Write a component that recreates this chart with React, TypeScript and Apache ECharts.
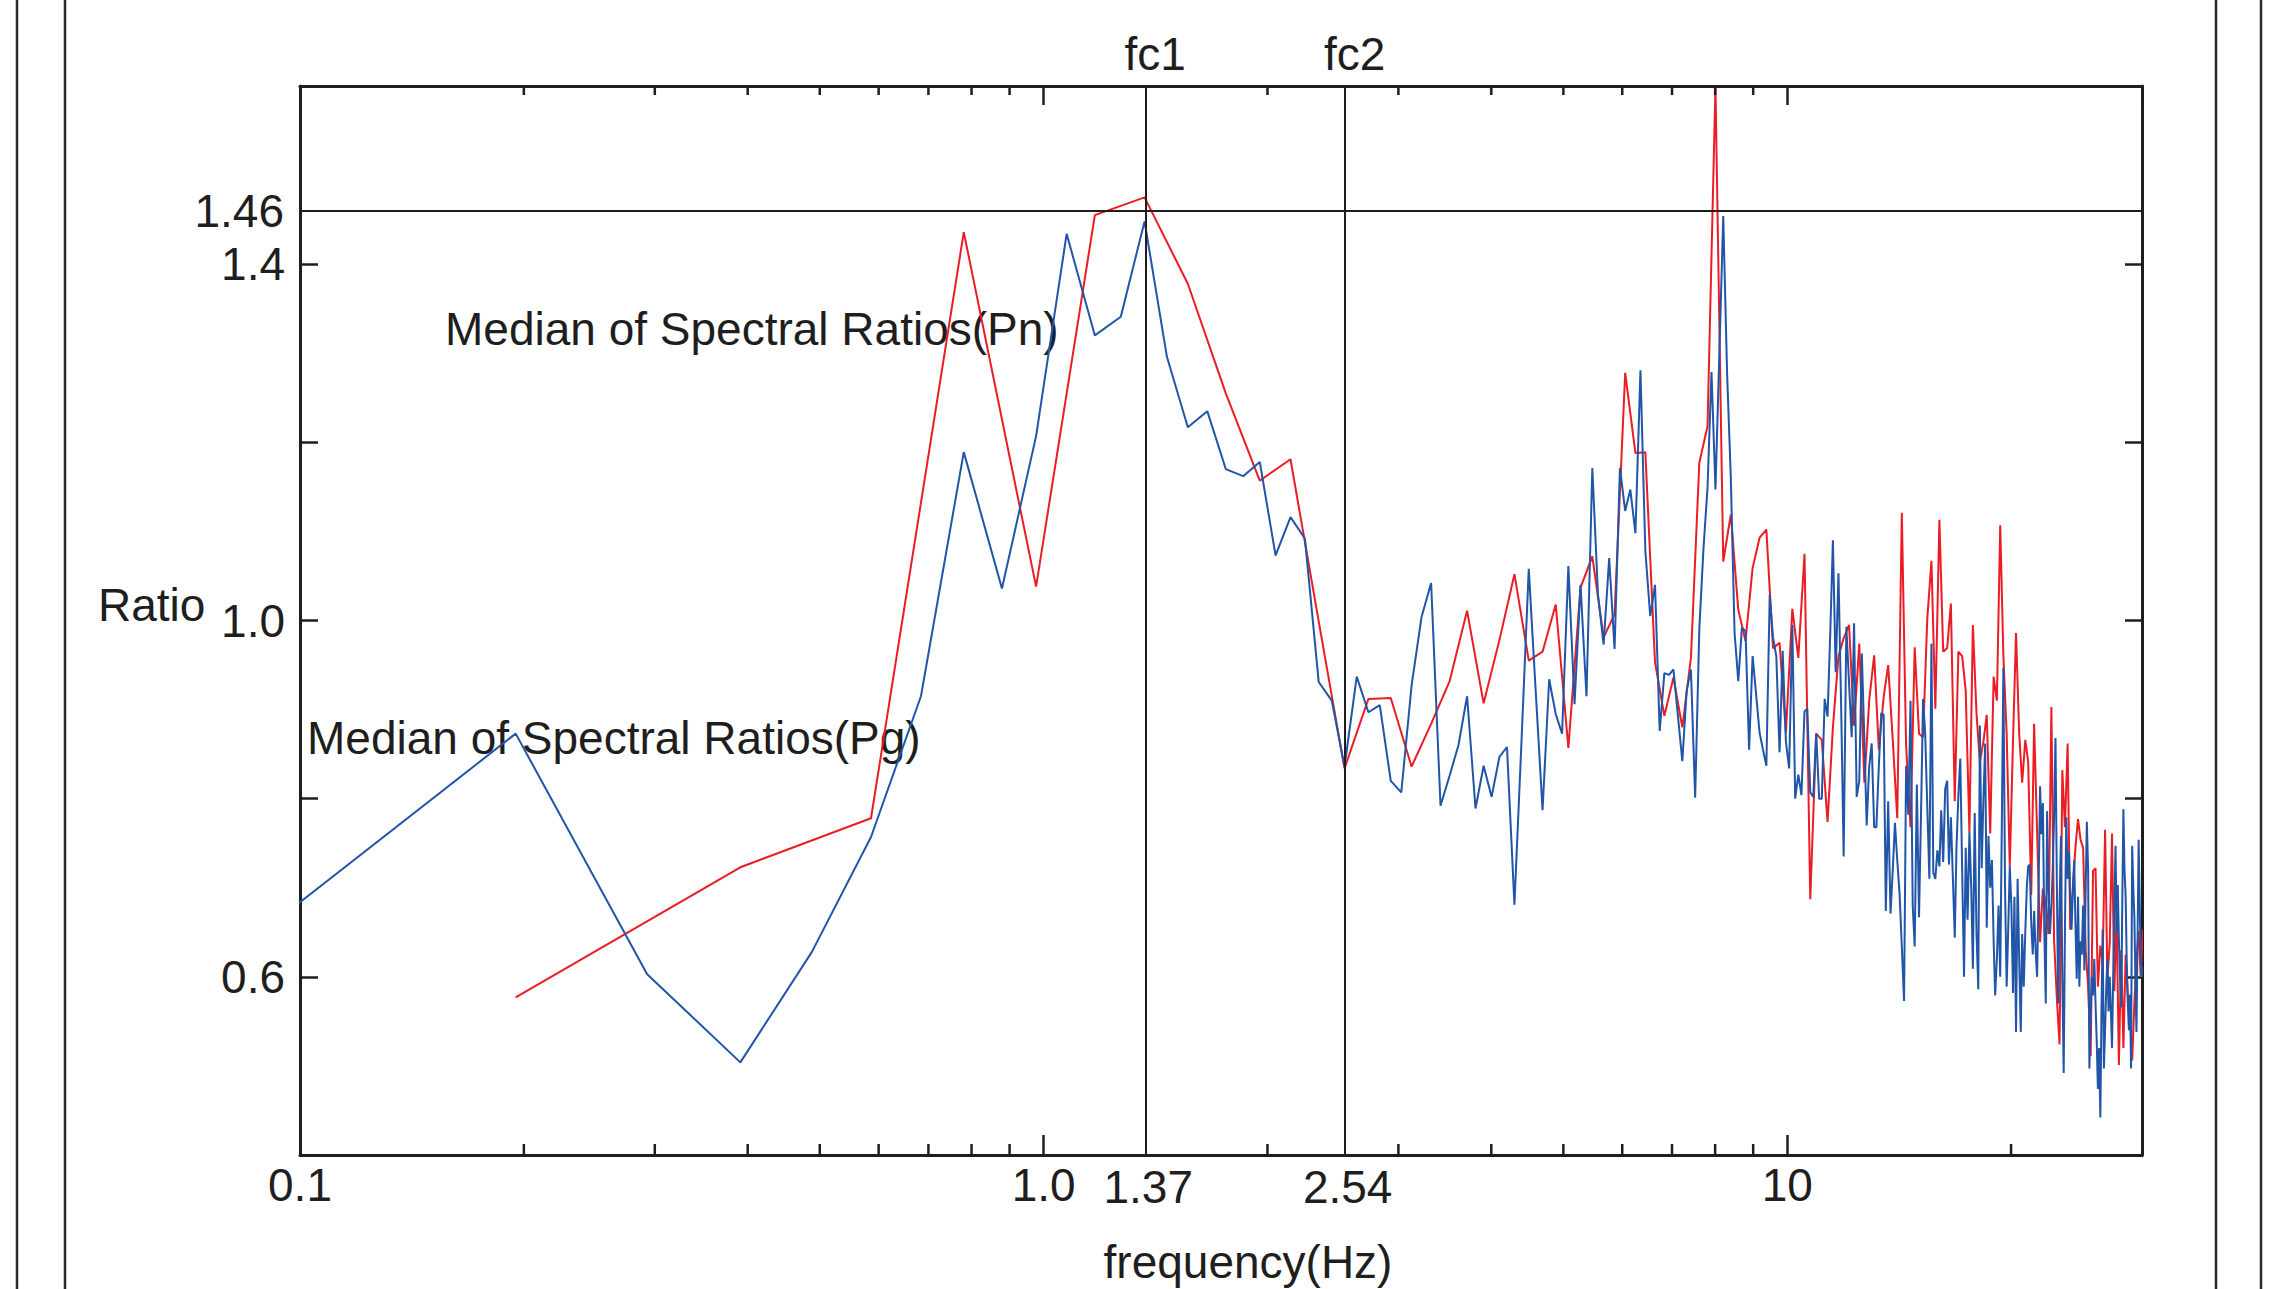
import React, { useEffect, useRef } from 'react';
import * as echarts from 'echarts';

// ---- Pg : median spectral ratio (blue), frequency bins in Hz ----
const pgFreq = [
  0.098, 0.195, 0.293, 0.391, 0.488, 0.586, 0.684, 0.781, 0.879, 0.977,
  1.074, 1.172, 1.270, 1.367, 1.465, 1.563, 1.660, 1.758, 1.855, 1.953,
  2.051, 2.148, 2.246, 2.344, 2.441, 2.539, 2.637, 2.734, 2.832, 2.930,
  3.027, 3.125, 3.223, 3.320, 3.418, 3.516, 3.613, 3.711, 3.809, 3.906,
  4.004, 4.102, 4.199, 4.297, 4.395, 4.492, 4.590, 4.688, 4.785, 4.883,
  4.980, 5.078, 5.176, 5.273, 5.371, 5.469, 5.566, 5.664, 5.762, 5.859,
  5.957, 6.055, 6.152, 6.250, 6.348, 6.445, 6.543, 6.641, 6.738, 6.836,
  6.934, 7.031, 7.129, 7.227, 7.324, 7.422, 7.520, 7.617, 7.715, 7.813,
  7.910, 8.008, 8.105, 8.203, 8.301, 8.398, 8.496, 8.594, 8.691, 8.789,
  8.887, 8.984, 9.082, 9.180, 9.277, 9.375, 9.473, 9.570, 9.668, 9.766,
  9.86, 9.96, 10.06, 10.16, 10.25, 10.35, 10.45, 10.55, 10.64, 10.74,
  10.84, 10.94, 11.04, 11.13, 11.23, 11.33, 11.43, 11.52, 11.62, 11.72,
  11.82, 11.91, 12.01, 12.11, 12.21, 12.30, 12.40, 12.50, 12.60, 12.70,
  12.79, 12.89, 12.99, 13.09, 13.18, 13.28, 13.38, 13.48, 13.57, 13.67,
  13.77, 13.87, 13.96, 14.06, 14.16, 14.26, 14.36, 14.45, 14.55, 14.65,
  14.75, 14.84, 14.94, 15.04, 15.14, 15.23, 15.33, 15.43, 15.53, 15.63,
  15.72, 15.82, 15.92, 16.02, 16.11, 16.21, 16.31, 16.41, 16.50, 16.60,
  16.70, 16.80, 16.89, 16.99, 17.09, 17.19, 17.29, 17.38, 17.48, 17.58,
  17.68, 17.77, 17.87, 17.97, 18.07, 18.16, 18.26, 18.36, 18.46, 18.55,
  18.65, 18.75, 18.85, 18.95, 19.04, 19.14, 19.24, 19.34, 19.43, 19.53,
  19.63, 19.73, 19.82, 19.92, 20.02, 20.12, 20.21, 20.31, 20.41, 20.51,
  20.61, 20.70, 20.80, 20.90, 21.00, 21.09, 21.19, 21.29, 21.39, 21.48,
  21.58, 21.68, 21.78, 21.88, 21.97, 22.07, 22.17, 22.27, 22.36, 22.46,
  22.56, 22.66, 22.75, 22.85, 22.95, 23.05, 23.14, 23.24, 23.34, 23.44,
  23.54, 23.63, 23.73, 23.83, 23.93, 24.02, 24.12, 24.22, 24.32, 24.41,
  24.51, 24.61, 24.71, 24.80, 24.90, 25.00, 25.10, 25.20, 25.29, 25.39,
  25.49, 25.59, 25.68, 25.78, 25.88, 25.98, 26.07, 26.17, 26.27, 26.37,
  26.46, 26.56, 26.66, 26.76, 26.86, 26.95, 27.05, 27.15, 27.25, 27.34,
  27.44, 27.54, 27.64, 27.73, 27.83, 27.93, 28.03, 28.13, 28.22, 28.32,
  28.42, 28.52, 28.61, 28.71, 28.81, 28.91, 29.00, 29.10, 29.20, 29.30,
  29.39, 29.49, 29.59, 29.69, 29.79, 29.88, 29.98, 30.08,
];
const pgRatio = [
  0.678, 0.873, 0.603, 0.504, 0.628, 0.757, 0.915, 1.189, 1.036, 1.207,
  1.434, 1.320, 1.341, 1.448, 1.296, 1.217, 1.235, 1.170, 1.162, 1.178,
  1.073, 1.116, 1.092, 0.931, 0.910, 0.836, 0.937, 0.897, 0.905, 0.820,
  0.807, 0.927, 1.004, 1.042, 0.792, 0.826, 0.860, 0.915, 0.789, 0.837,
  0.802, 0.847, 0.858, 0.681, 0.870, 1.058, 0.920, 0.787, 0.934, 0.895,
  0.873, 1.061, 0.906, 1.040, 0.915, 1.171, 1.029, 0.973, 1.070, 0.968,
  1.171, 1.123, 1.147, 1.098, 1.281, 1.078, 1.005, 1.040, 0.876, 0.941,
  0.939, 0.945, 0.893, 0.842, 0.921, 0.945, 0.801, 0.990, 1.080, 1.149,
  1.279, 1.147, 1.300, 1.454, 1.278, 1.160, 0.986, 0.932, 0.992, 0.988,
  0.855, 0.960, 0.917, 0.874, 0.855, 0.837, 1.029, 0.981, 0.960, 0.852,
  0.966, 0.864, 0.834, 0.995, 0.800, 0.827, 0.804, 0.898, 0.901, 0.807,
  0.802, 0.873, 0.800, 0.800, 0.912, 0.892, 0.990, 1.090, 0.942, 1.053,
  0.900, 0.735, 0.993, 0.930, 0.869, 0.997, 0.802, 0.820, 0.963, 0.864,
  0.770, 0.836, 0.862, 0.768, 0.768, 0.836, 0.896, 0.894, 0.674, 0.797,
  0.671, 0.722, 0.773, 0.731, 0.694, 0.634, 0.573, 0.837, 0.782, 0.910,
  0.680, 0.634, 0.816, 0.667, 0.791, 0.912, 0.873, 0.791, 0.710, 0.974,
  0.717, 0.710, 0.742, 0.724, 0.787, 0.729, 0.811, 0.820, 0.726, 0.779,
  0.713, 0.644, 0.745, 0.804, 0.845, 0.720, 0.600, 0.745, 0.664, 0.763,
  0.700, 0.609, 0.784, 0.650, 0.586, 0.882, 0.722, 0.800, 0.862, 0.655,
  0.758, 0.700, 0.731, 0.640, 0.579, 0.620, 0.680, 0.600, 0.760, 0.947,
  0.700, 0.589, 0.650, 0.724, 0.680, 0.582, 0.690, 0.538, 0.710, 0.620,
  0.538, 0.648, 0.589, 0.650, 0.700, 0.724, 0.726, 0.660, 0.625, 0.674,
  0.630, 0.600, 0.700, 0.814, 0.760, 0.795, 0.650, 0.570, 0.786, 0.700,
  0.648, 0.680, 0.717, 0.780, 0.868, 0.700, 0.570, 0.680, 0.758, 0.600,
  0.492, 0.650, 0.779, 0.710, 0.740, 0.690, 0.653, 0.700, 0.731, 0.660,
  0.598, 0.690, 0.589, 0.640, 0.625, 0.680, 0.607, 0.700, 0.774, 0.720,
  0.497, 0.560, 0.600, 0.579, 0.620, 0.570, 0.530, 0.474, 0.520, 0.442,
  0.560, 0.653, 0.497, 0.540, 0.589, 0.620, 0.561, 0.600, 0.560, 0.520,
  0.600, 0.680, 0.747, 0.650, 0.703, 0.640, 0.600, 0.566, 0.680, 0.788,
  0.720, 0.690, 0.620, 0.570, 0.540, 0.580, 0.497, 0.747, 0.700, 0.667,
  0.600, 0.538, 0.640, 0.754, 0.680, 0.620, 0.600, 0.612,
];

// ---- Pn : median spectral ratio (red) ----
const pnFreq = [
  0.195, 0.391, 0.586, 0.781, 0.977, 1.172, 1.367, 1.563, 1.758, 1.953,
  2.148, 2.344, 2.539, 2.734, 2.930, 3.125, 3.320, 3.516, 3.711, 3.906,
  4.102, 4.297, 4.492, 4.688, 4.883, 5.078, 5.273, 5.469, 5.664, 5.859,
  6.055, 6.250, 6.445, 6.641, 6.836, 7.031, 7.227, 7.422, 7.617, 7.813,
  8.008, 8.203, 8.398, 8.594, 8.789, 8.984, 9.180, 9.375, 9.570, 9.766,
  9.96, 10.16, 10.35, 10.55, 10.74, 10.94, 11.13, 11.33, 11.52, 11.72,
  11.91, 12.11, 12.30, 12.50, 12.70, 12.89, 13.09, 13.28, 13.48, 13.67,
  13.87, 14.06, 14.26, 14.45, 14.65, 14.84, 15.04, 15.23, 15.43, 15.63,
  15.82, 16.02, 16.21, 16.41, 16.60, 16.80, 16.99, 17.19, 17.38, 17.58,
  17.77, 17.97, 18.16, 18.36, 18.55, 18.75, 18.95, 19.14, 19.34, 19.53,
  19.73, 19.92, 20.12, 20.31, 20.51, 20.70, 20.90, 21.09, 21.29, 21.48,
  21.68, 21.88, 22.07, 22.27, 22.46, 22.66, 22.85, 23.05, 23.24, 23.44,
  23.63, 23.83, 24.02, 24.22, 24.41, 24.61, 24.80, 25.00, 25.20, 25.39,
  25.59, 25.78, 25.98, 26.17, 26.37, 26.56, 26.76, 26.95, 27.15, 27.34,
  27.54, 27.73, 27.93, 28.13, 28.32, 28.52, 28.71, 28.91, 29.10, 29.30,
  29.49, 29.69, 29.88, 30.08,
];
const pnRatio = [
  0.577, 0.723, 0.778, 1.436, 1.038, 1.455, 1.475, 1.378, 1.255, 1.157,
  1.181, 0.999, 0.834, 0.912, 0.913, 0.836, 0.884, 0.932, 1.011, 0.907,
  0.978, 1.052, 0.955, 0.965, 1.018, 0.857, 1.037, 1.072, 0.981, 1.007,
  1.278, 1.188, 1.189, 0.953, 0.893, 0.936, 0.880, 0.958, 1.177, 1.218,
  1.600, 1.066, 1.119, 1.012, 0.977, 1.059, 1.093, 1.102, 0.969, 0.975,
  0.874, 1.013, 0.958, 1.075, 0.687, 0.873, 0.866, 0.774, 0.880, 0.960,
  0.980, 0.995, 0.882, 0.974, 0.818, 0.910, 0.961, 0.855, 0.914, 0.950,
  0.864, 0.778, 1.121, 0.860, 0.768, 0.970, 0.873, 0.869, 1.002, 1.067,
  0.901, 1.113, 0.965, 0.969, 1.019, 0.797, 0.965, 0.960, 0.921, 0.763,
  0.995, 0.896, 0.841, 0.864, 0.894, 0.761, 0.937, 0.910, 1.107, 0.960,
  0.873, 0.724, 0.864, 0.986, 0.873, 0.818, 0.866, 0.841, 0.692, 0.884,
  0.763, 0.639, 0.699, 0.683, 0.648, 0.903, 0.641, 0.575, 0.524, 0.832,
  0.768, 0.862, 0.653, 0.699, 0.745, 0.777, 0.754, 0.745, 0.630, 0.589,
  0.511, 0.719, 0.722, 0.589, 0.635, 0.616, 0.765, 0.598, 0.639, 0.761,
  0.584, 0.671, 0.501, 0.630, 0.520, 0.625, 0.580, 0.561, 0.506, 0.570,
  0.620, 0.651, 0.600, 0.653,
];

// ---- axes / annotations ----
const X_MIN = 0.1;
const X_MAX = 30;
const Y_MIN = 0.4;
const Y_MAX = 1.6;
const Y_STEP = 0.2;
const xTickValues = [0.1, 1, 10];
const xTickTexts = ['0.1', '1.0', '10'];
const yTickValues = [0.6, 1.0, 1.4];
const yTickTexts = ['0.6', '1.0', '1.4'];
const minorTickFreqs = [0.2, 0.3, 0.4, 0.5, 0.6, 0.7, 0.8, 0.9, 2, 3, 4, 5, 6, 7, 8, 9, 20];
const minorTickOnTop = [1, 1, 1, 1, 1, 1, 1, 1, 1, 1, 1, 1, 1, 1, 1, 1, 0];
const cornerFreqs = [1.37, 2.54];
const cornerNames = ['fc1', 'fc2'];
const cornerTexts = ['1.37', '2.54'];
const peakRatio = 1.46;
const peakText = '1.46';

const FONT = '"Liberation Sans", Arial, Helvetica, sans-serif';
const INK = '#1e1e1e';
const RED = '#ec1c24';
const BLUE = '#2055a8';
const FS = 46;

export default function App() {
  const ref = useRef<HTMLDivElement>(null);

  useEffect(() => {
    if (!ref.current) return;
    const chart = echarts.init(ref.current, undefined, { renderer: 'svg' });

    const xFmt = (v: number) => {
      const i = xTickValues.findIndex((t) => Math.abs(Math.log10(t) - Math.log10(v)) < 1e-6);
      return i >= 0 ? xTickTexts[i] : '';
    };
    const yFmt = (v: number) => {
      const i = yTickValues.findIndex((t) => Math.abs(t - v) < 1e-6);
      return i >= 0 ? yTickTexts[i] : '';
    };

    const labelBase = { color: INK, fontSize: FS, fontFamily: FONT };

    const markData: any[] = [];
    cornerFreqs.forEach((f, i) => {
      markData.push({
        xAxis: f,
        label: { ...labelBase, position: 'end', distance: 9, padding: [0, 0, 0, 20], formatter: cornerNames[i] },
      });
      markData.push({
        xAxis: f,
        label: { ...labelBase, position: 'start', distance: 9, padding: [0, 0, 0, 6], formatter: cornerTexts[i] },
      });
    });
    markData.push({
      yAxis: peakRatio,
      label: { ...labelBase, position: 'start', distance: 16, padding: [0, 0, 8, 0], formatter: peakText },
    });

    const axisLine = { show: true, onZero: false, lineStyle: { color: INK, width: 3 } };
    const tickStyle = { color: INK, width: 2.5 };

    const option: any = {
      animation: false,
      backgroundColor: '#ffffff',
      grid: { left: 300, right: 133, top: 86, bottom: 134, containLabel: false },
      xAxis: [
        {
          type: 'log', logBase: 10, min: X_MIN, max: X_MAX, position: 'bottom',
          axisLine, splitLine: { show: false },
          axisTick: { show: true, inside: true, length: 20, lineStyle: tickStyle },
          axisLabel: { ...labelBase, margin: 7, formatter: xFmt, showMinLabel: true, showMaxLabel: false },
        },
        {
          type: 'log', logBase: 10, min: X_MIN, max: X_MAX, position: 'top',
          axisLine, splitLine: { show: false },
          axisTick: { show: true, inside: true, length: 19, lineStyle: tickStyle },
          axisLabel: { show: false },
        },
      ],
      yAxis: [
        {
          type: 'value', min: Y_MIN, max: Y_MAX, interval: Y_STEP, position: 'left',
          axisLine, splitLine: { show: false },
          axisTick: { show: true, inside: true, length: 18, lineStyle: tickStyle },
          axisLabel: { ...labelBase, margin: 15, formatter: yFmt },
        },
        {
          type: 'value', min: Y_MIN, max: Y_MAX, interval: Y_STEP, position: 'right',
          axisLine, splitLine: { show: false },
          axisTick: { show: true, inside: true, length: 17, lineStyle: tickStyle },
          axisLabel: { show: false },
        },
      ],
      series: [
        {
          name: 'Pn', type: 'line', xAxisIndex: 0, yAxisIndex: 0,
          data: pnFreq.map((f, i) => [f, pnRatio[i]]),
          showSymbol: false, symbol: 'none', clip: true,
          lineStyle: { color: RED, width: 2 }, itemStyle: { color: RED },
          z: 2,
        },
        {
          name: 'Pg', type: 'line', xAxisIndex: 0, yAxisIndex: 0,
          data: pgFreq.map((f, i) => [f, pgRatio[i]]),
          showSymbol: false, symbol: 'none', clip: true,
          lineStyle: { color: BLUE, width: 2 }, itemStyle: { color: BLUE },
          z: 3,
          markLine: {
            silent: true, symbol: ['none', 'none'], animation: false,
            lineStyle: { color: INK, width: 2, type: 'solid' },
            data: markData,
          },
        },
        {
          name: 'minorTicks', type: 'custom', xAxisIndex: 0, yAxisIndex: 0, silent: true, z: 5,
          data: minorTickFreqs.map((f, i) => [f, Y_MIN, minorTickOnTop[i]]),
          encode: { x: 0, y: 1 },
          renderItem: (params: any, api: any) => {
            const f = api.value(0);
            const showTop = api.value(2);
            const b = api.coord([f, Y_MIN]);
            const t = api.coord([f, Y_MAX]);
            const children: any[] = [
              { type: 'line', shape: { x1: b[0], y1: b[1], x2: b[0], y2: b[1] - 11 }, style: { stroke: INK, lineWidth: 2.5 } },
            ];
            if (showTop) {
              children.push({ type: 'line', shape: { x1: t[0], y1: t[1], x2: t[0], y2: t[1] + 9 }, style: { stroke: INK, lineWidth: 2.5 } });
            }
            return { type: 'group', children };
          },
        },
      ],
      graphic: [
        ...[17, 65, 2216, 2261].map((x) => ({
          type: 'line', silent: true,
          shape: { x1: x, y1: 0, x2: x, y2: 1289 },
          style: { stroke: '#2a2a2a', lineWidth: 2.5 },
        })),
        {
          type: 'text', x: 445, y: 329, silent: true,
          style: { text: 'Median of Spectral Ratios(Pn)', fill: INK, fontSize: FS, fontFamily: FONT, align: 'left', verticalAlign: 'middle' },
        },
        {
          type: 'text', x: 307, y: 738, silent: true,
          style: { text: 'Median of Spectral Ratios(Pg)', fill: INK, fontSize: FS, fontFamily: FONT, align: 'left', verticalAlign: 'middle' },
        },
        {
          type: 'text', x: 98, y: 605, silent: true,
          style: { text: 'Ratio', fill: INK, fontSize: FS, fontFamily: FONT, align: 'left', verticalAlign: 'middle' },
        },
        {
          type: 'text', x: 1248, y: 1262, silent: true,
          style: { text: 'frequency(Hz)', fill: INK, fontSize: FS, fontFamily: FONT, align: 'center', verticalAlign: 'middle' },
        },
      ],
    };

    chart.setOption(option);
    return () => chart.dispose();
  }, []);

  return (
    <div
      ref={ref}
      style={{ position: 'fixed', left: 0, top: 0, width: 2275, height: 1289, background: '#ffffff' }}
    />
  );
}
